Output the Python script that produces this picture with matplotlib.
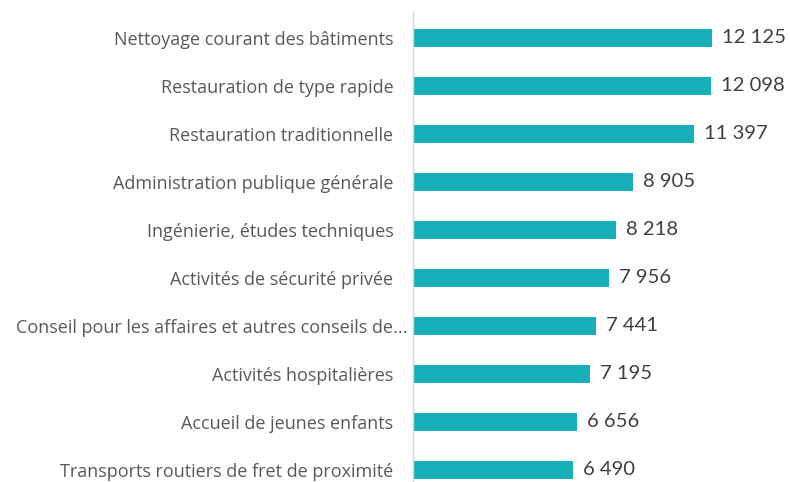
import matplotlib
matplotlib.use("Agg")
import matplotlib.pyplot as plt
import matplotlib.transforms as mtransforms

categories = [
    "Nettoyage courant des bâtiments",
    "Restauration de type rapide",
    "Restauration traditionnelle",
    "Administration publique générale",
    "Ingénierie, études techniques",
    "Activités de sécurité privée",
    "Conseil pour les affaires et autres conseils de...",
    "Activités hospitalières",
    "Accueil de jeunes enfants",
    "Transports routiers de fret de proximité",
]
values = [12125, 12098, 11397, 8905, 8218, 7956, 7441, 7195, 6656, 6490]

plt.rcParams['font.family'] = ['Open Sans', 'DejaVu Sans']

W, H = 790, 482
fig = plt.figure(figsize=(W / 100, H / 100), dpi=100)
left, right = 413 / W, 1.0
top, bottom = 1 - 12 / H, 0.0
ax = fig.add_axes([left, bottom, right - left, top - bottom])

n = len(categories)
ypos = list(range(n))
ax.barh(ypos, values, height=0.36, color="#17AFBA", zorder=2)
ax.set_ylim(n - 1 + 0.25, -0.54)
px_per_unit = (713 - 414) / 12125
ax.set_xlim(0, (W - 413) / px_per_unit)

for y, v in zip(ypos, values):
    s = f"{v:,}".replace(",", " ")
    ax.text(v + 10 / px_per_unit, y, s, va="center", ha="left",
            fontsize=14.6, color="#404040", family=['Lato', 'DejaVu Sans'])

ax.set_yticks(ypos)
ax.set_yticklabels(categories, fontsize=13, color="#595959")
ax.tick_params(axis="y", length=0, pad=14)
for lbl in ax.get_yticklabels():
    if lbl.get_text().endswith("..."):
        lbl.set_transform(lbl.get_transform() +
                          mtransforms.ScaledTranslation(14 / 100, 0, fig.dpi_scale_trans))
ax.set_xticks([])
for sp in ["top", "right", "bottom"]:
    ax.spines[sp].set_visible(False)
ax.spines["left"].set_color("#D9D9D9")
ax.spines["left"].set_linewidth(1)

fig.savefig("out.png", dpi=100)
